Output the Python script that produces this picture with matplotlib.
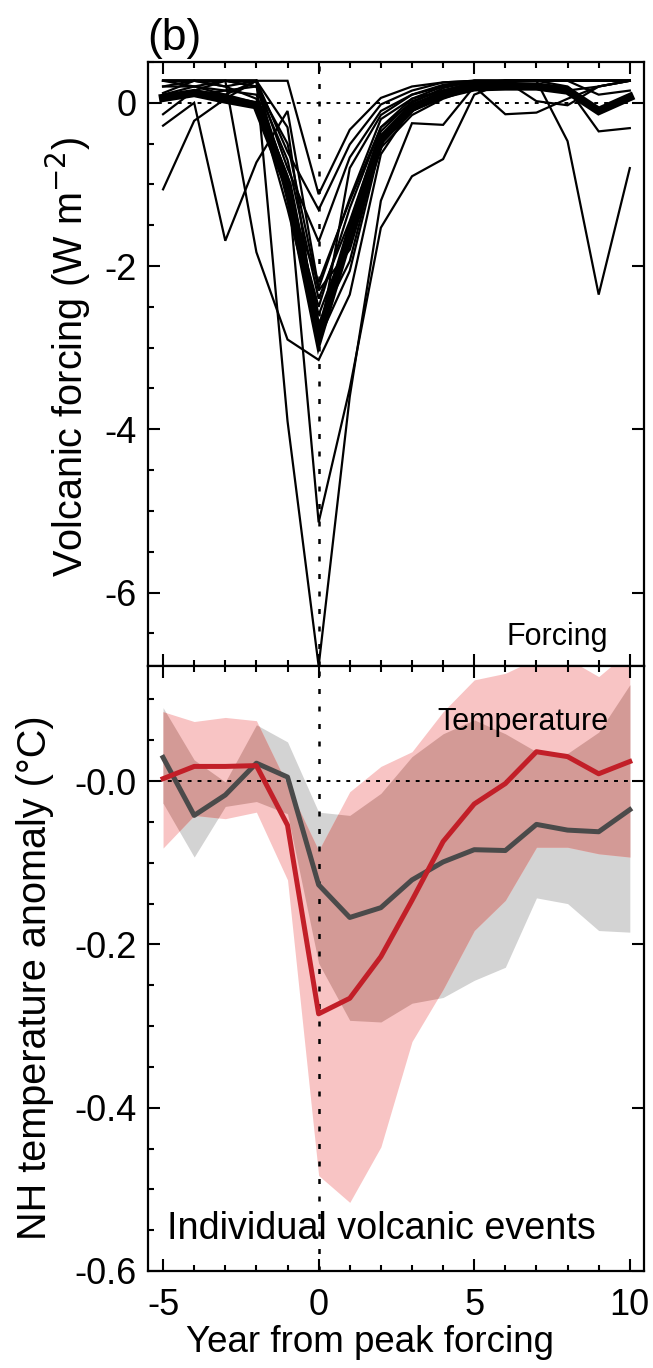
import numpy as np
import matplotlib
matplotlib.use("Agg")
import matplotlib.pyplot as plt
from matplotlib.ticker import FixedLocator, MultipleLocator, FixedFormatter

plt.rcParams['font.family'] = ['Liberation Sans', 'DejaVu Sans']

# ---------------- data ----------------
years = list(range(-5, 11))

# individual volcanic events: forcing (W m-2), years -5..10
forcing_events = [
    [0.27, 0.27, 0.27, 0.27, -3.90, -6.90, -3.60, -1.20, -0.25, -0.27, 0.20, 0.27, 0.27, 0.27, 0.27, 0.27],
    [0.27, 0.27, 0.27, 0.20, -0.95, -5.14, -3.50, -1.53, -0.90, -0.69, 0.10, 0.25, 0.27, 0.27, 0.27, 0.27],
    [0.27, 0.27, 0.27, -1.83, -2.90, -3.15, -2.35, -0.63, -0.06, 0.10, 0.22, 0.27, 0.27, 0.27, 0.27, 0.27],
    [0.27, 0.27, 0.27, 0.27, 0.27, -1.12, -0.33, 0.06, 0.20, 0.25, 0.27, 0.27, 0.27, 0.27, 0.27, 0.27],
    [-0.28, 0.00, -1.69, -0.73, -0.10, -2.27, -1.17, -0.20, 0.05, 0.20, 0.27, 0.27, 0.27, 0.27, 0.27, 0.27],
    [-1.06, -0.22, 0.05, 0.27, -0.60, -1.31, -0.51, -0.02, 0.15, 0.25, 0.27, 0.27, 0.27, 0.27, 0.27, 0.27],
    [0.12, 0.27, 0.20, 0.27, -0.80, -1.70, -0.67, -0.10, 0.10, 0.22, 0.27, 0.27, 0.27, 0.27, 0.27, 0.27],
    [0.20, 0.20, 0.10, 0.27, -1.10, -2.50, -1.29, -0.30, 0.00, 0.18, 0.27, 0.27, 0.27, 0.27, 0.27, 0.27],
    [-0.14, 0.15, 0.27, 0.27, -1.20, -2.90, -2.06, -0.50, -0.10, 0.15, 0.25, 0.27, 0.27, 0.27, 0.27, 0.27],
    [0.05, 0.15, 0.10, 0.00, -1.00, -2.70, -1.94, -0.45, -0.05, 0.12, 0.25, 0.27, 0.27, -0.47, -2.35, -0.80],
    [0.27, 0.20, 0.15, 0.10, -0.90, -2.60, -1.60, -0.40, -0.10, 0.10, 0.20, -0.14, -0.12, 0.05, 0.20, 0.27],
    [0.20, 0.27, 0.27, 0.20, -0.70, -2.40, -1.45, -0.35, 0.02, 0.15, 0.22, 0.27, 0.02, -0.03, 0.20, 0.27],
    [0.27, 0.27, 0.20, 0.05, -1.30, -2.80, -1.70, -0.55, -0.15, 0.05, 0.18, 0.25, 0.20, 0.18, -0.35, -0.31],
    [0.05, 0.10, 0.15, 0.20, -0.50, -2.30, -1.80, -0.50, -0.10, 0.08, 0.20, 0.27, 0.27, 0.20, -0.10, 0.05],
    [0.27, 0.27, 0.27, 0.27, -0.30, -2.95, -0.80, -0.15, 0.10, 0.20, 0.25, 0.27, 0.27, 0.27, 0.10, 0.15],
    [0.10, 0.20, 0.27, 0.27, -1.15, -2.20, -1.20, -0.30, 0.05, 0.15, 0.25, 0.25, 0.20, 0.15, 0.20, 0.27],
]
forcing_mean = [0.06, 0.12, 0.04, -0.03, -1.00, -2.88, -1.60, -0.45, -0.06, 0.10, 0.19, 0.20, 0.20, 0.15, -0.10, 0.07]

# temperature composites (degC)
temp_red = [0.003, 0.018, 0.018, 0.019, -0.054, -0.285, -0.266, -0.215, -0.146, -0.074,
            -0.028, -0.003, 0.036, 0.030, 0.009, 0.024]
temp_dark = [0.029, -0.042, -0.017, 0.022, 0.005, -0.127, -0.167, -0.155, -0.121, -0.099,
             -0.084, -0.085, -0.053, -0.060, -0.062, -0.035]
pink_hi = [0.085, 0.073, 0.078, 0.074, -0.005, -0.085, -0.013, 0.018, 0.036, 0.085,
           0.124, 0.132, 0.150, 0.150, 0.128, 0.160]
pink_lo = [-0.082, -0.042, -0.046, -0.038, -0.121, -0.483, -0.516, -0.448, -0.319, -0.255,
           -0.183, -0.146, -0.081, -0.081, -0.089, -0.093]
gray_hi = [0.090, 0.026, -0.001, 0.069, 0.048, -0.038, -0.042, -0.015, 0.030, 0.058,
           0.075, 0.058, 0.036, 0.034, 0.060, 0.118]
gray_lo = [-0.027, -0.093, -0.031, -0.025, -0.040, -0.223, -0.293, -0.295, -0.272, -0.265,
           -0.244, -0.228, -0.143, -0.150, -0.183, -0.185]

x_ticks = [-5, 0, 5, 10]
x_ticklabels = ["-5", "0", "5", "10"]
f_ticks = [-6, -4, -2, 0]
f_ticklabels = ["-6", "-4", "-2", "0"]
t_ticks = [-0.6, -0.4, -0.2, 0.0]
t_ticklabels = ["-0.6", "-0.4", "-0.2", "-0.0"]

# ---------------- colours ----------------
PINK = "#F8C4C4"
GRAY = "#D3D3D3"
ROSE = "#D39A96"
RED = "#C21F28"
DARK = "#4A4A4A"

W, H = 653, 1368
fig = plt.figure(figsize=(W / 100, H / 100), dpi=100)
xl, xr = 147.5, 643.8
ax1 = fig.add_axes([xl / W, 1 - 666 / H, (xr - xl) / W, (666 - 62) / H])
ax2 = fig.add_axes([xl / W, 1 - 1271 / H, (xr - xl) / W, (1271 - 666) / H])

TICK_FS = 26
for ax in (ax1, ax2):
    ax.set_xlim(-5.5, 10.45)
    ax.xaxis.set_major_locator(FixedLocator(x_ticks))
    ax.xaxis.set_minor_locator(MultipleLocator(1))
    ax.tick_params(which='both', direction='in', top=True, bottom=True, left=True, right=True,
                   width=1.5, labelsize=TICK_FS)
    ax.tick_params(which='major', length=8.5)
    ax.tick_params(which='minor', length=4.2, right=False)
    ax.tick_params(axis='y', which='major', pad=8)
    ax.tick_params(axis='x', which='major', pad=12)
    for s in ax.spines.values():
        s.set_linewidth(1.6)

# ---------- top panel ----------
ax1.set_ylim(-6.9, 0.5)
ax1.yaxis.set_major_locator(FixedLocator(f_ticks))
ax1.yaxis.set_major_formatter(FixedFormatter(f_ticklabels))
ax1.yaxis.set_minor_locator(MultipleLocator(0.5))
ax1.tick_params(axis='x', labelbottom=False)
ax1.axhline(0, color='black', lw=1.4, ls=(0, (2.0, 3.1)), zorder=1)
ax1.axvline(0, color='black', lw=1.8, ls=(0, (2.0, 5.0)), zorder=1)
for ev in forcing_events:
    ax1.plot(years, ev, color='black', lw=1.6, zorder=2, solid_joinstyle='miter')
ax1.plot(years, forcing_mean, color='black', lw=6.0, zorder=3, solid_joinstyle='miter')
ax1.text(0.928, 0.035, "Forcing", transform=ax1.transAxes, ha='right', va='baseline',
         fontsize=22)

# ---------- bottom panel ----------
ax2.set_ylim(-0.6, 0.141)
ax2.yaxis.set_major_locator(FixedLocator(t_ticks))
ax2.yaxis.set_major_formatter(FixedFormatter(t_ticklabels))
ax2.yaxis.set_minor_locator(MultipleLocator(0.05))
ax2.xaxis.set_major_formatter(FixedFormatter(x_ticklabels))

yrs = np.array(years, dtype=float)
ax2.fill_between(yrs, gray_lo, gray_hi, color=GRAY, lw=0, zorder=1)
ax2.fill_between(yrs, pink_lo, pink_hi, color=PINK, lw=0, zorder=1.1)
xf = np.linspace(yrs[0], yrs[-1], 1501)
lo = np.maximum(np.interp(xf, yrs, gray_lo), np.interp(xf, yrs, pink_lo))
hi = np.minimum(np.interp(xf, yrs, gray_hi), np.interp(xf, yrs, pink_hi))
ax2.fill_between(xf, lo, hi, where=lo < hi, color=ROSE, lw=0, zorder=1.2)
ax2.axhline(0, color='black', lw=1.4, ls=(0, (2.0, 3.1)), zorder=2)
ax2.axvline(0, color='black', lw=1.8, ls=(0, (2.0, 5.0)), zorder=2)
ax2.plot(years, temp_dark, color=DARK, lw=3.6, zorder=3)
ax2.plot(years, temp_red, color=RED, lw=3.6, zorder=4)
ax2.text(0.928, 0.895, "Temperature", transform=ax2.transAxes, ha='right', va='baseline',
         fontsize=22)
ax2.text(0.039, 0.053, "Individual volcanic events", transform=ax2.transAxes, ha='left',
         va='baseline', fontsize=27.2)

# ---------- labels ----------
fig.text(147 / W, 1 - 50 / H, "(b)", fontsize=32, ha='left', va='baseline')
fig.text(68 / W, 1 - 357 / H, "Volcanic forcing (W m$^{-2}$)", rotation=90, fontsize=28.5,
         ha='center', va='center')
fig.text(35 / W, 1 - 978 / H, "NH temperature anomaly (\u00b0C)", rotation=90, fontsize=28.5,
         ha='center', va='center')
fig.text(370 / W, 1 - 1342 / H, "Year from peak forcing", fontsize=26.5, ha='center', va='center')

fig.savefig("out.png", dpi=100)
